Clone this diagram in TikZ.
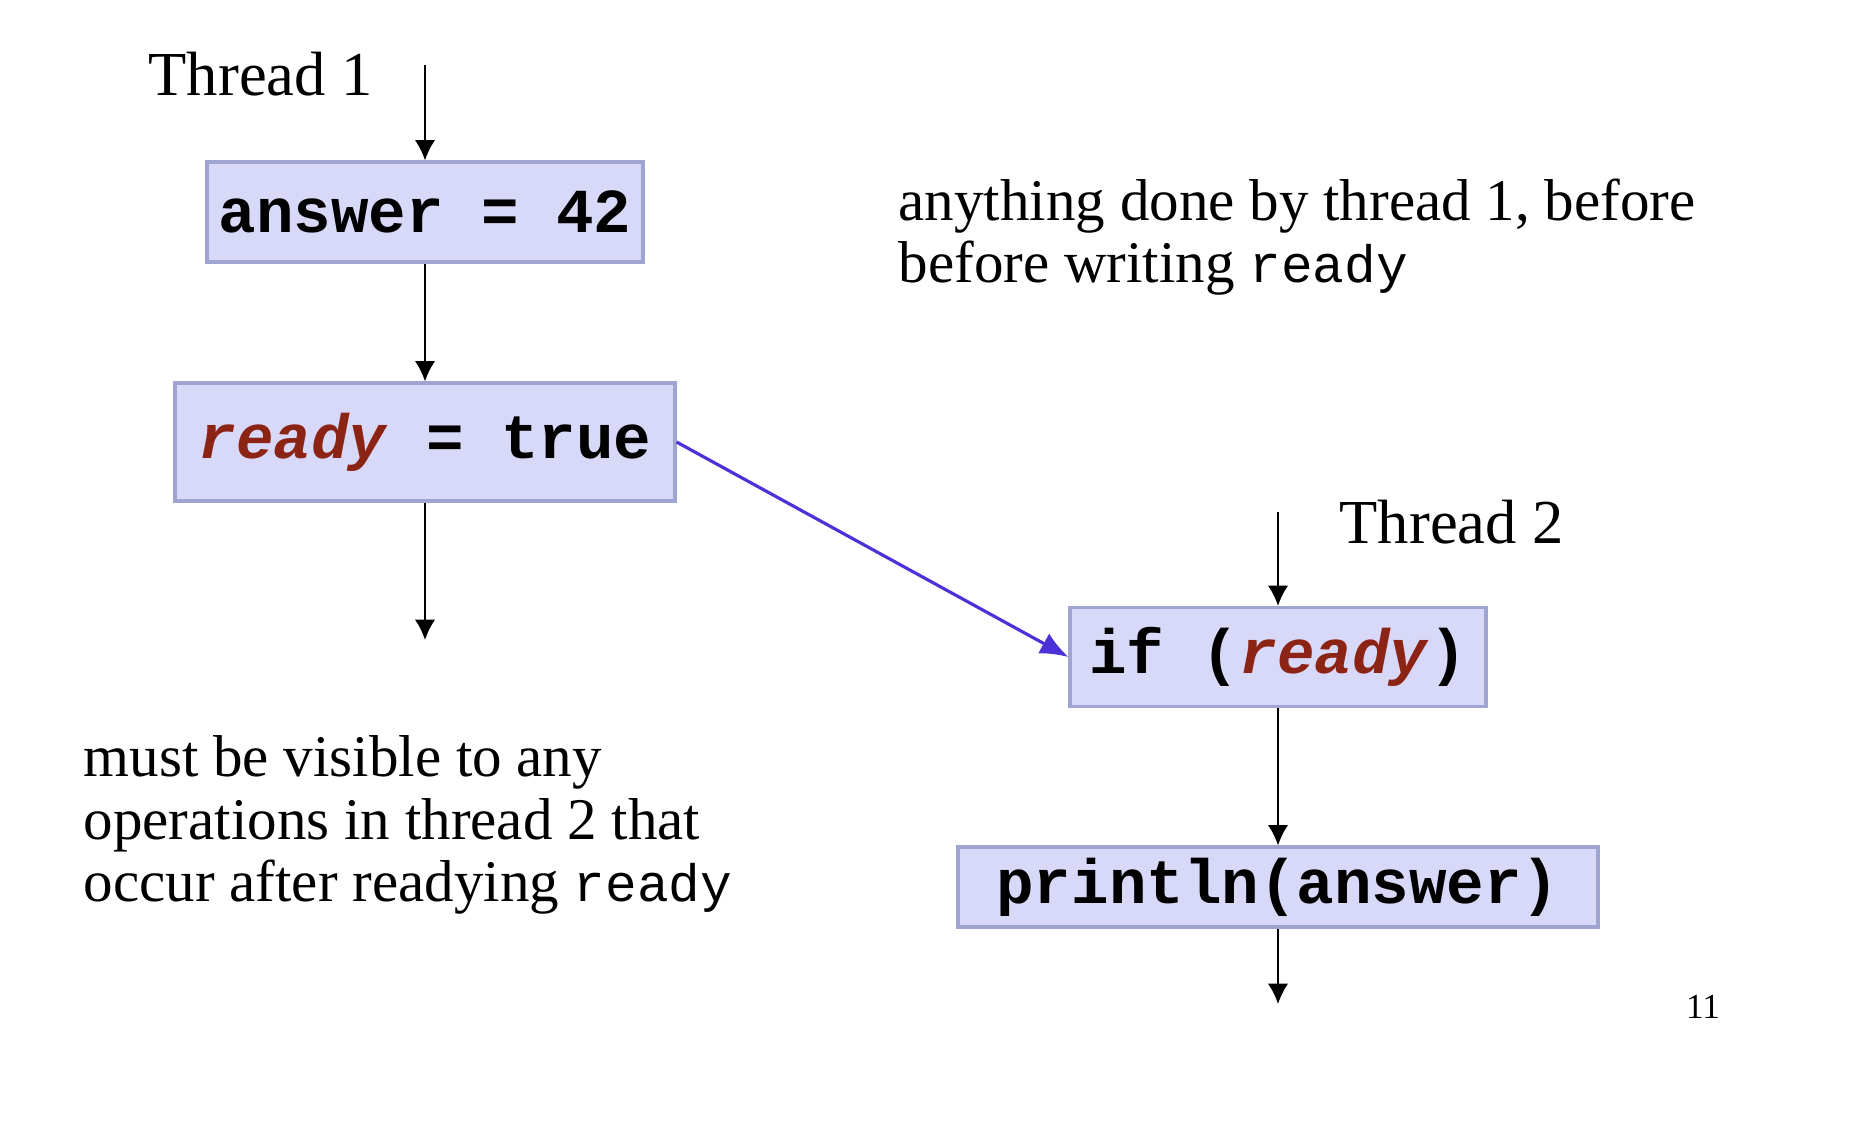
\documentclass[tikz,border=0pt]{standalone}
\usepackage{fontspec}
\setmainfont{Liberation Serif}
\setmonofont{Liberation Mono}
\usetikzlibrary{arrows.meta}
\definecolor{boxfill}{HTML}{D8D8F8}
\definecolor{boxline}{HTML}{A0A4D0}
\definecolor{varred}{HTML}{8B2414}
\definecolor{syncblue}{HTML}{4B32D8}
\newcommand{\rdy}{\textcolor{varred}{\textit{ready}}}

\begin{document}
\begin{tikzpicture}[
	codebox/.style={draw=boxline,fill=boxfill,line width=0.9pt,inner sep=0pt,font=\fontsize{17.8}{20}\selectfont\ttfamily\bfseries},
	flow/.style={line width=0.6pt,-{Latex[length=5.8pt,width=5.8pt]}},
	label/.style={font=\fontsize{17.8}{20}\selectfont,inner sep=0pt},
	remark/.style={font=\fontsize{16.8}{17.8}\selectfont,inner sep=0pt,align=left,anchor=north west}]
	\useasboundingbox (0,0) rectangle (18.6,-11.22) ;
	% thread 1
	\node [label,anchor=base west] (t1) at (1.48,-0.95) {Thread 1} ;
	\coordinate (in1) at (4.25,-0.65) ;
	\node [codebox,minimum width=4.36cm,minimum height=1.0cm] (answer) at (4.25,-2.12) {answer = 42} ;
	\node [codebox,minimum width=5.0cm,minimum height=1.18cm] (write) at (4.25,-4.42) {\rdy{} = true} ;
	\coordinate (out1) at (4.25,-6.40) ;
	\draw [flow] (in1) -- (answer) ;
	\draw [flow] (answer) -- (write) ;
	\draw [flow] (write) -- (out1) ;
	% thread 2
	\node [label,anchor=base west] (t2) at (13.39,-5.43) {Thread 2} ;
	\coordinate (in2) at (12.78,-5.12) ;
	\node [codebox,minimum width=4.16cm,minimum height=0.99cm] (read) at (12.78,-6.57) {if (\rdy)} ;
	\node [codebox,minimum width=6.40cm,minimum height=0.80cm] (print) at (12.78,-8.87) {println(answer)} ;
	\coordinate (out2) at (12.78,-10.04) ;
	\draw [flow] (in2) -- (read) ;
	\draw [flow] (read) -- (print) ;
	\draw [flow] (print) -- (out2) ;
	% happens-before edge
	\draw [line width=0.9pt,syncblue,-{Latex[length=8pt,width=6.5pt]}] (write.east) -- (read.west) ;
	% remarks
	\node [remark] (before) at (8.98,-1.78) {anything done by thread 1, before\\before writing {\fontsize{15}{17.8}\selectfont\ttfamily ready}} ;
	\node [remark] (after) at (0.83,-7.35) {must be visible to any\\operations in thread 2 that\\occur after readying {\fontsize{15}{17.8}\selectfont\ttfamily ready}} ;
	\node [font=\fontsize{10}{12}\selectfont] (page) at (17.03,-10.07) {11} ;
\end{tikzpicture}
\end{document}
